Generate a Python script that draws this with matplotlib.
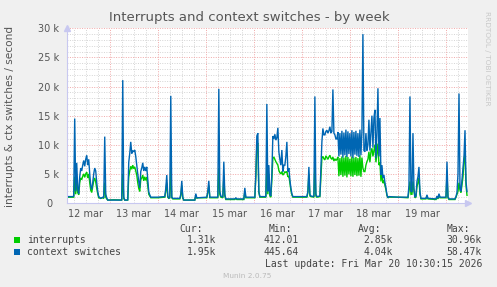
import matplotlib
matplotlib.use("Agg")
import matplotlib.pyplot as plt

# hours since 12 mar 00:00
hours = [3.5, 5.5, 6.0, 6.5, 7.0, 7.5, 8.0, 8.5, 9.0, 9.5, 10.0, 10.5, 11.0, 11.5, 12.0, 12.5, 13.0, 13.5,
         14.0, 14.5, 15.0, 15.5, 16.0, 16.5, 17.0, 17.5, 18.0, 18.5, 19.5, 20.5, 21.0, 21.5, 22.0, 22.5, 23.0,
         26.0, 30.0, 30.5, 31.0, 31.5, 33.0, 33.5, 34.0, 34.5, 35.0, 35.5, 36.0, 36.5, 37.0, 37.5, 38.0, 38.5,
         39.0, 39.5, 40.0, 40.5, 41.0, 41.5, 42.0, 42.5, 43.0, 43.5, 44.0, 44.5, 48.0, 51.5, 52.0, 52.5, 53.0,
         53.5, 54.0, 54.5, 55.0, 55.5, 59.0, 59.5, 60.0, 60.5, 61.0, 66.5, 67.0, 67.5, 68.0, 72.5, 73.0, 73.5,
         74.0, 78.0, 78.5, 79.0, 79.5, 80.5, 81.0, 81.5, 82.0, 86.5, 87.0, 87.5, 91.0, 91.5, 92.0, 96.5, 97.0,
         97.5, 98.0, 98.5, 99.0, 102.0, 102.5, 103.0, 103.5, 104.0, 104.5, 105.0, 105.5, 106.0, 106.5, 107.0,
         107.5, 108.0, 108.5, 109.0, 109.5, 110.0, 110.5, 111.0, 111.5, 112.0, 112.5, 113.0, 113.5, 114.0,
         114.5, 115.0, 115.5, 122.5, 123.0, 123.5, 124.0, 124.5, 126.0, 126.5, 127.0, 127.5, 129.0, 129.5,
         130.0, 130.5, 131.0, 131.5, 132.0, 132.5, 133.0, 133.5, 134.0, 134.5, 135.0, 135.5, 136.0, 136.5,
         137.0, 137.5, 138.0, 138.5, 139.0, 139.5, 140.0, 140.5, 141.0, 141.5, 142.0, 142.5, 143.0, 143.5,
         144.0, 144.5, 145.0, 145.5, 146.0, 146.5, 147.0, 147.5, 148.0, 148.5, 149.0, 149.5, 150.0, 150.5,
         151.0, 151.5, 152.0, 152.5, 153.0, 153.5, 154.0, 154.5, 155.0, 155.5, 156.0, 156.5, 157.0, 157.5,
         158.0, 158.5, 159.0, 159.5, 160.0, 160.5, 161.0, 161.5, 162.0, 162.5, 163.0, 163.5, 168.0, 173.0,
         173.5, 174.0, 174.5, 175.0, 175.5, 176.0, 176.5, 177.0, 177.5, 178.0, 178.5, 179.0, 179.5, 182.0,
         182.5, 183.0, 187.0, 187.5, 188.0, 188.5, 189.0, 192.0, 192.5, 193.0, 193.5, 196.5, 197.0, 197.5,
         198.0, 198.5, 199.0, 199.5, 200.5, 201.0, 201.5, 202.0, 202.5]

# context switches (thousands / s)
ctx_k = [1.1, 1.1, 1.2, 14.5, 2.0, 6.9, 2.5, 1.6, 4.5, 6.0, 5.5, 6.5, 7.3, 6.3, 7.5, 8.2, 6.5, 7.5,
         5.0, 3.0, 2.3, 3.5, 5.0, 6.0, 5.5, 3.5, 2.0, 1.1, 0.8, 1.0, 0.9, 11.4, 1.5, 0.9, 0.5,
         0.5, 0.5, 21.1, 1.0, 0.5, 0.5, 7.0, 8.5, 10.5, 8.5, 9.0, 8.8, 9.1, 8.0, 6.5, 5.0, 3.7,
         2.6, 5.4, 6.0, 6.9, 5.5, 6.2, 5.5, 6.2, 4.0, 1.9, 1.4, 1.0, 1.0, 1.1, 2.5, 4.8, 1.2,
         0.8, 1.0, 18.4, 1.0, 0.8, 0.8, 1.5, 3.8, 1.0, 0.5, 0.5, 1.6, 0.9, 0.9, 1.0, 2.0, 3.8,
         1.0, 1.0, 19.6, 2.0, 1.2, 1.0, 7.1, 1.5, 0.7, 0.7, 0.9, 0.7, 0.7, 2.6, 1.0, 1.0, 5.0,
         11.5, 12.0, 2.0, 1.1, 1.1, 17.0, 2.0, 6.5, 1.5, 1.2, 5.0, 11.5, 11.0, 11.8, 10.8,
         11.2, 12.9, 8.8, 7.5, 6.5, 9.1, 5.4, 6.5, 6.5, 8.0, 10.5, 5.4, 6.0, 4.0,
         2.6, 1.6, 1.1, 1.1, 2.0, 6.2, 1.5, 1.2, 1.1, 18.3, 1.5, 1.1, 1.2, 6.0,
         10.5, 12.8, 11.7, 11.7, 12.3, 12.5, 12.0, 12.4, 13.1, 12.0, 12.3, 19.5, 12.0, 11.7,
         11.0, 11.0, 12.2, 8.0, 12.0, 8.3, 12.4, 7.8, 12.1, 8.2, 12.6, 7.9, 12.3, 8.4,
         12.0, 8.0, 12.5, 7.7, 12.2, 8.3, 12.4, 8.1, 12.0, 7.9, 12.6, 8.2, 12.3, 29.0,
         9.0, 8.8, 12.0, 9.0, 10.0, 14.3, 9.0, 12.0, 15.0, 9.5, 14.6, 16.0, 7.7, 12.0,
         19.7, 8.0, 14.6, 4.8, 6.5, 4.3, 4.8, 3.5, 2.6, 1.4, 0.9, 1.1, 1.0, 1.0,
         3.0, 18.3, 2.0, 1.9, 12.0, 2.5, 1.0, 1.2, 3.7, 4.5, 6.2, 1.9, 0.8, 0.8,
         1.4, 0.8, 0.7, 1.2, 0.8, 1.6, 1.0, 1.0, 7.1, 1.0, 0.7, 0.7, 1.1, 1.8,
         5.0, 18.8, 2.6, 2.0, 6.0, 8.0, 12.5, 3.7, 1.95]

# interrupts (thousands / s)
irq_k = [1.0, 1.0, 1.0, 4.5, 1.5, 4.0, 1.8, 1.4, 3.5, 4.3, 4.0, 4.6, 5.0, 4.4, 5.0, 5.3, 4.3, 5.0,
         3.5, 2.2, 1.8, 2.8, 3.8, 4.3, 3.6, 2.5, 1.6, 0.9, 0.8, 0.9, 0.8, 3.5, 1.0, 0.7, 0.5,
         0.55, 0.5, 5.0, 0.8, 0.5, 0.5, 4.5, 5.5, 6.3, 5.8, 6.5, 5.9, 6.2, 5.5, 4.8, 3.5, 2.5,
         2.0, 4.0, 4.3, 4.8, 3.8, 4.5, 3.9, 4.4, 3.0, 1.5, 1.2, 0.9, 0.9, 1.0, 2.0, 3.5, 1.0,
         0.8, 0.9, 6.0, 0.9, 0.7, 0.7, 1.2, 3.0, 0.8, 0.5, 0.5, 1.3, 0.8, 0.9, 0.9, 1.8, 3.0,
         0.9, 0.9, 6.0, 1.5, 1.0, 0.9, 4.5, 1.2, 0.6, 0.6, 0.8, 0.6, 0.6, 2.0, 0.9, 0.9, 4.5,
         10.0, 10.3, 1.8, 1.0, 1.0, 6.0, 1.5, 5.0, 1.2, 1.0, 4.0, 7.7, 7.9, 7.5, 7.1,
         6.8, 6.5, 5.6, 5.2, 5.0, 5.4, 4.8, 5.0, 5.4, 5.2, 5.4, 4.5, 4.6, 3.5,
         2.2, 1.4, 1.0, 1.0, 1.8, 5.0, 1.2, 1.1, 1.0, 6.5, 1.2, 1.0, 1.1, 4.5,
         7.7, 8.0, 7.6, 7.4, 8.1, 7.8, 7.5, 7.9, 8.2, 7.7, 7.5, 7.9, 7.2, 7.6,
         7.3, 7.5, 7.9, 4.6, 7.7, 4.8, 8.0, 4.5, 7.8, 4.7, 8.1, 4.4, 7.9, 4.9,
         7.6, 4.6, 8.0, 4.5, 7.8, 4.8, 7.9, 4.6, 7.7, 4.7, 8.2, 4.5, 7.8, 6.0,
         5.4, 5.4, 6.5, 7.1, 7.5, 8.8, 7.0, 8.8, 9.4, 8.0, 9.0, 10.0, 7.0, 8.5,
         10.2, 6.5, 7.0, 3.7, 5.4, 3.4, 3.9, 3.0, 2.3, 1.3, 0.9, 1.0, 1.0, 0.9,
         2.0, 3.7, 1.5, 1.5, 3.7, 2.0, 0.9, 1.0, 2.8, 3.5, 4.3, 1.5, 0.7, 0.7,
         1.2, 0.7, 0.6, 1.0, 0.7, 1.4, 0.9, 0.9, 5.0, 0.9, 0.6, 0.6, 1.0, 1.5,
         2.0, 3.5, 2.2, 1.8, 4.5, 7.4, 8.5, 3.0, 1.31]

day_labels = ["12 mar", "13 mar", "14 mar", "15 mar", "16 mar", "17 mar", "18 mar", "19 mar"]
ytick_vals_k = [0, 5, 10, 15, 20, 25, 30]
series_names = ["interrupts", "context switches"]
stats_cur = ["1.31k", "1.95k"]
stats_min = ["412.01", "445.64"]
stats_avg = ["2.85k", "4.04k"]
stats_max = ["30.96k", "58.47k"]

C_IRQ = "#00CC00"
C_CTX = "#0066B3"

W, H = 497, 287
fig = plt.figure(figsize=(W / 100, H / 100), dpi=100, facecolor="#F0F0F0")
ax = fig.add_axes([66.7 / W, 1 - 203 / H, (468 - 66.7) / W, (203 - 28.3) / H])
ax.set_facecolor("white")

xmin, xmax = 2.5, 203.0
ax.set_xlim(xmin, xmax)
ax.set_ylim(0, 30000)

# grid
for h in range(6, 204, 6):
    if h % 24 != 0:
        ax.axvline(h, color="#D4D4D4", lw=0.7, ls=(0, (1, 1.5)), zorder=0)
for v in range(1000, 30001, 1000):
    if v % 5000 != 0:
        ax.axhline(v, color="#D4D4D4", lw=0.7, ls=(0, (1, 1.5)), zorder=0)
for h in range(24, 204, 24):
    ax.axvline(h, color="#F0A8A8", lw=0.7, ls=(0, (1, 1.5)), zorder=0.5)
for v in range(5000, 30001, 5000):
    ax.axhline(v, color="#F0A8A8", lw=0.7, ls=(0, (1, 1.5)), zorder=0.5)

irq = [v * 1000 for v in irq_k]
ctx = [v * 1000 for v in ctx_k]
ax.plot(hours, irq, color=C_IRQ, lw=1.0, zorder=3, solid_joinstyle="miter")
ax.plot(hours, ctx, color=C_CTX, lw=1.0, zorder=4, solid_joinstyle="miter")

for s in ["top", "right"]:
    ax.spines[s].set_visible(False)
for s in ["left", "bottom"]:
    ax.spines[s].set_color("#C8C8F0")
    ax.spines[s].set_linewidth(0.8)
ax.plot([0], [1.0], marker="^", color="#C8C8F0", markersize=4, transform=ax.transAxes, clip_on=False)
ax.plot([1.0], [0], marker=">", color="#C8C8F0", markersize=4, transform=ax.transAxes, clip_on=False)

ax.set_yticks([v * 1000 for v in ytick_vals_k])
ax.set_yticklabels([("%d k" % v) if v else "0  " for v in ytick_vals_k])
ax.set_xticks([12 + 24 * i for i in range(len(day_labels))])
ax.set_xticklabels(day_labels)
ax.tick_params(axis="both", length=0, labelsize=7, colors="#555555")
ax.tick_params(axis="y", pad=5.5)
ax.tick_params(axis="x", pad=4)

fig.text(249 / W, 1 - 18 / H, "Interrupts and context switches - by week", ha="center", va="center",
         fontsize=9.5, color="#555555")
fig.text(10 / W, 1 - 116 / H, "interrupts & ctx switches / second", rotation=90, ha="center", va="center",
         fontsize=7.6, color="#555555")
fig.text(487 / W, 1 - 58 / H, "RRDTOOL / TOBI OETIKER", rotation=270, ha="center", va="center",
         fontsize=5.3, color="#C8C8C8")

mono = dict(family="DejaVu Sans Mono", fontsize=7, color="#444444", va="center")
def fy(y):
    return 1 - y / H

fig.text(203 / W, fy(228.5), "Cur:", ha="right", **mono)
fig.text(292 / W, fy(228.5), "Min:", ha="right", **mono)
fig.text(381 / W, fy(228.5), "Avg:", ha="right", **mono)
fig.text(470 / W, fy(228.5), "Max:", ha="right", **mono)
rows = [240, 251.7]
for i, (name, col) in enumerate(zip(series_names, [C_IRQ, C_CTX])):
    y = rows[i]
    fig.patches.append(plt.Rectangle((14 / W, fy(y + 2.8)), 6 / W, 6 / H, transform=fig.transFigure,
                                     facecolor=col, edgecolor="none"))
    fig.text(27 / W, fy(y), name, ha="left", **mono)
    fig.text(216 / W, fy(y), stats_cur[i], ha="right", **mono)
    fig.text(299 / W, fy(y), stats_min[i], ha="right", **mono)
    fig.text(393 / W, fy(y), stats_avg[i], ha="right", **mono)
    fig.text(482 / W, fy(y), stats_max[i], ha="right", **mono)
fig.text(482 / W, fy(264), "Last update: Fri Mar 20 10:30:15 2026", ha="right", **mono)
fig.text(247 / W, fy(276.5), "Munin 2.0.75", ha="center", va="center", fontsize=5.3, color="#BBBBBB")

fig.savefig("out.png", dpi=100, facecolor=fig.get_facecolor())
